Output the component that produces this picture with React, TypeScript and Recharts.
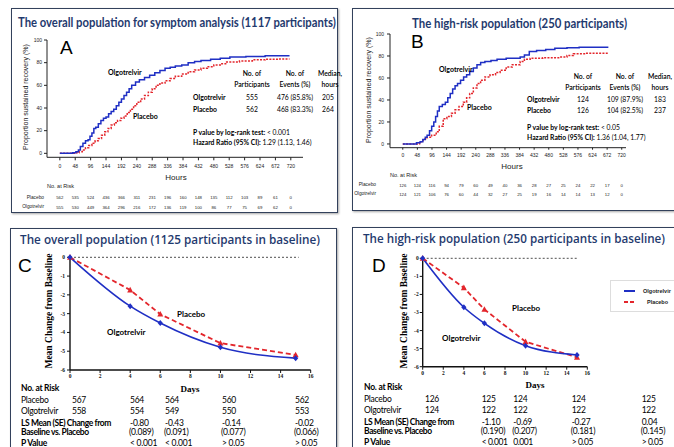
import React from 'react';
import { LineChart, Line, XAxis, YAxis, ReferenceLine, Legend } from 'recharts';

// ---------------- DATA ----------------
const hourTicks = [0, 48, 96, 144, 192, 240, 288, 336, 384, 432, 480, 528, 576, 624, 672, 720];
const pctTicks = [0, 20, 40, 60, 80, 100];
const dayTicks = [0, 2, 4, 6, 8, 10, 12, 14, 16];
const changeTicks = [0, -1, -2, -3, -4, -5, -6];

// Panel A – Kaplan-Meier (hours, % sustained recovery)
const aOlgotrelvirKM = [[0,0],[24,0],[40,0.5],[50,1.5],[58,3],[64,6],[72,9],[80,11],[88,12],[94,15],[100,18],[106,22],[112,23],[120,26],[128,29],[136,31],[144,32],[152,35],[160,37],[168,39],[176,42],[184,45],[192,48],[200,51],[208,54],[216,57],[224,60],[236,63],[248,65],[264,67],[280,69],[296,71],[312,73],[328,75],[344,76],[360,77],[380,78],[400,80],[420,81],[440,82],[470,83],[500,84],[530,85],[580,85.5],[640,86],[716,86]];
const aPlaceboKM = [[0,0],[30,0],[48,0.5],[60,1.5],[70,3],[80,5],[90,7],[100,9],[110,11],[120,13],[130,16],[140,19],[150,22],[160,25],[170,27],[180,29],[190,31],[200,33],[210,36],[220,39],[230,42],[240,45],[252,48],[264,51],[276,54],[288,57],[300,60],[312,62],[328,64],[344,66],[360,68],[380,70],[400,72],[420,73.5],[440,75],[460,76.5],[480,78],[500,79],[520,80.5],[560,81.5],[600,82.5],[640,83],[680,83.3],[716,83.3]];
const aRiskPlacebo = [562, 535, 524, 436, 366, 311, 231, 196, 160, 148, 135, 112, 103, 89, 61, 0];
const aRiskOlgotrelvir = [555, 530, 449, 364, 296, 216, 172, 136, 119, 100, 86, 77, 75, 69, 62, 0];

// Panel B – Kaplan-Meier
const bOlgotrelvirKM = [[0,0],[30,0],[45,1],[57,2],[66,4],[74,6],[80,8],[88,12],[95,16],[102,20],[108,25],[114,30],[120,34],[130,36],[140,38],[148,42],[156,46],[164,50],[172,53],[180,55],[190,58],[200,61],[210,63],[220,66],[232,69],[244,72],[256,74],[270,75],[290,76],[310,77],[340,78],[386,79],[400,81],[416,84],[440,85],[470,86],[500,87],[540,87.5],[580,87.9],[676,87.9]];
const bPlaceboKM = [[0,0],[40,0],[55,2],[67,4.5],[80,6],[95,8],[110,11],[120,16],[133,23],[145,25],[160,28],[172,31],[185,34],[199,38],[210,42],[220,46],[232,51],[244,55],[256,58],[270,61],[287,63],[305,65],[320,67],[340,70],[360,72],[386,75],[400,77],[419,78],[460,78.5],[517,79],[540,80.5],[561,82],[600,82.5],[676,82.5]];
const bRiskPlacebo = [126, 124, 116, 94, 79, 60, 49, 40, 36, 28, 27, 25, 24, 22, 17, 0];
const bRiskOlgotrelvir = [124, 121, 106, 76, 60, 44, 32, 27, 25, 19, 16, 14, 14, 13, 12, 0];

// Panels C / D – mean change from baseline by day
const visitDays = [0, 4, 6, 10, 15];
const cOlgotrelvir = [0, -2.6, -3.5, -4.79, -5.37];
const cPlacebo = [0, -1.74, -3.03, -4.57, -5.2];
const dOlgotrelvir = [0, -2.71, -3.6, -4.84, -5.35];
const dPlacebo = [0, -1.63, -2.83, -4.62, -5.48];

const riskDays = [0, 4, 6, 10, 15];
const cRiskPlacebo = ['567', '564', '564', '560', '562'];
const cRiskOlgotrelvir = ['558', '554', '549', '550', '553'];
const cLsMean = ['-0.80', '-0.43', '-0.14', '-0.02'];
const cLsSE = ['(0.089)', '(0.091)', '(0.077)', '(0.066)'];
const cPValue = ['< 0.001', '< 0.001', '> 0.05', '> 0.05'];
const dRiskPlacebo = ['126', '125', '124', '124', '125'];
const dRiskOlgotrelvir = ['124', '122', '122', '122', '122'];
const dLsMean = ['-1.10', '-0.69', '-0.27', '0.04'];
const dLsSE = ['(0.190)', '(0.207)', '(0.181)', '(0.145)'];
const dPValue = ['< 0.001', '0.001', '> 0.05', '> 0.05'];

// ---------------- STYLE ----------------
const BLUE = '#1f2fc4';
const RED = '#e3262c';
const NAVY = '#1f3a6e';
const CAL = "Lato, 'Noto Sans', sans-serif";
const ARIAL = "'Liberation Sans', Arial, sans-serif";
const SERIF = "'Liberation Serif', 'DejaVu Serif', serif";

const toKM = (arr: number[][]) => arr.map(([h, p]) => ({ h, p }));
const toDays = (vals: number[]) => visitDays.map((d, i) => ({ d, v: vals[i] }));

type TP = { x: number; y: number; s: number; b?: boolean; a?: 'start' | 'middle' | 'end'; c?: string; f?: string; children: React.ReactNode; rot?: boolean; w?: number; ls?: number };
const T = ({ x, y, s, b, a = 'start', c = '#000', f = CAL, children, rot, w, ls = 0 }: TP) => {
  const tx = a === 'middle' ? '-50%' : a === 'end' ? '-100%' : '0';
  return (
    <div
      style={{
        position: 'absolute', left: x, top: y,
        transform: rot ? 'translate(-50%,-50%) rotate(-90deg)' : `translate(${tx},-50%)`,
        fontSize: s, fontWeight: b ? (w || 700) : 400, color: c, fontFamily: f,
        whiteSpace: 'nowrap', lineHeight: 1, letterSpacing: ls,
      }}
    >
      {children}
    </div>
  );
};

let measureCtx: CanvasRenderingContext2D | null = null;
const measure = (text: string, font: string) => {
  if (!measureCtx) measureCtx = document.createElement('canvas').getContext('2d');
  if (!measureCtx) return 0;
  measureCtx.font = font;
  return measureCtx.measureText(text).width;
};

// Title squeezed horizontally to the width it occupies in the reference
const Title = ({ x, y, len, s, text, f, w }: { x: number; y: number; len: number; s: number; text: string; f: string; w: number }) => {
  const nat = measure(text, `${w} ${s}px ${f}`) || len;
  const k = Math.min(1, len / nat);
  return (
    <div
      style={{
        position: 'absolute', left: x, top: y, width: nat,
        transform: `translateY(-50%) scaleX(${k})`, transformOrigin: '0 50%',
        fontSize: s, fontWeight: w, fontFamily: f, color: NAVY, whiteSpace: 'nowrap', lineHeight: 1.1,
      }}
    >
      {text}
    </div>
  );
};

const Box = ({ l, t, r, b }: { l: number; t: number; r: number; b: number }) => (
  <div style={{ position: 'absolute', left: l, top: t, width: r - l, height: b - t, border: '1.5px solid #33415c', boxShadow: '1px 1px 2px rgba(0,0,0,0.35)', boxSizing: 'border-box' }} />
);

const kmTick = (r1: number[], r2: number[], o0: number, o1: number, o2: number) => (props: any) => {
  const { x, y, payload } = props;
  const i = hourTicks.indexOf(payload.value);
  return (
    <g>
      <text x={x} y={y + o0} textAnchor="middle" fontSize={5} fontFamily={ARIAL} fill="#222">{payload.value}</text>
      <text x={x} y={y + o1} textAnchor="middle" fontSize={4.3} fontFamily={ARIAL} fill="#222">{r1[i]}</text>
      <text x={x} y={y + o2} textAnchor="middle" fontSize={4.3} fontFamily={ARIAL} fill="#222">{r2[i]}</text>
    </g>
  );
};

const diamond = (color: string) => (p: any) => (
  <path key={`d${p.index}`} d={`M${p.cx},${p.cy - 3}L${p.cx + 2.6},${p.cy}L${p.cx},${p.cy + 3}L${p.cx - 2.6},${p.cy}Z`} fill={color} />
);
const tri = (color: string) => (p: any) => (
  <path key={`t${p.index}`} d={`M${p.cx},${p.cy - 3.2}L${p.cx + 3},${p.cy + 2.4}L${p.cx - 3},${p.cy + 2.4}Z`} fill={color} />
);

const pos = (l: number, t: number): React.CSSProperties => ({ position: 'absolute', left: l, top: t });

const kmAxisStyle = { stroke: '#222', strokeWidth: 1 };
const TS = 8.5;
const TLS = -0.25;

const App = () => {
  const aO = toKM(aOlgotrelvirKM), aP = toKM(aPlaceboKM);
  const bO = toKM(bOlgotrelvirKM), bP = toKM(bPlaceboKM);
  const cO = toDays(cOlgotrelvir), cP = toDays(cPlacebo);
  const dO = toDays(dOlgotrelvir), dP = toDays(dPlacebo);

  const serifTick = { fontSize: 5.5, fontFamily: SERIF, fontWeight: 700, fill: '#111' };

  return (
    <div style={{ position: 'absolute', left: 0, top: 0, width: 674, height: 447, overflow: 'hidden', background: '#fff' }}>
      <Box l={11} t={8} r={338} b={213} />
      <Box l={352} t={8} r={700} b={211} />
      <Box l={10} t={228} r={337} b={470} />
      <Box l={352} t={227} r={700} b={470} />

      {/* ---- Panel A chart ---- */}
      <div style={pos(0, 0)}>
        <LineChart width={340} height={215} margin={{ top: 40, left: 27, right: 37, bottom: 37.7 }}>
          <XAxis dataKey="h" type="number" domain={[-40, 758]} ticks={hourTicks} height={20} tickSize={3} tickMargin={0}
            axisLine={kmAxisStyle} tickLine={kmAxisStyle}
            tick={kmTick(aRiskPlacebo, aRiskOlgotrelvir, 7.4, 39, 48.6)} interval={0} />
          <YAxis type="number" domain={[-3.5, 100]} ticks={pctTicks} width={20} tickSize={3} tickMargin={2}
            axisLine={kmAxisStyle} tickLine={kmAxisStyle}
            tick={{ fontSize: 5, fontFamily: ARIAL, fill: '#222' }} />
          <Line data={aP} dataKey="p" type="stepAfter" stroke={RED} strokeWidth={1.5} strokeDasharray="2 1.3" dot={false} isAnimationActive={false} />
          <Line data={aO} dataKey="p" type="stepAfter" stroke={BLUE} strokeWidth={1.5} dot={false} isAnimationActive={false} />
        </LineChart>
      </div>

      {/* ---- Panel B chart ---- */}
      <div style={pos(340, 0)}>
        <LineChart width={334} height={215} margin={{ top: 34, left: 30, right: 48, bottom: 47.3 }}>
          <XAxis dataKey="h" type="number" domain={[-42, 734]} ticks={hourTicks} height={20} tickSize={2} tickMargin={0}
            axisLine={kmAxisStyle} tickLine={kmAxisStyle}
            tick={kmTick(bRiskPlacebo, bRiskOlgotrelvir, 7, 37, 46)} interval={0} />
          <YAxis type="number" domain={[-3.4, 100]} ticks={pctTicks} width={20} tickSize={3} tickMargin={3}
            axisLine={kmAxisStyle} tickLine={kmAxisStyle}
            tick={{ fontSize: 5, fontFamily: ARIAL, fill: '#222' }} />
          <Line data={bP} dataKey="p" type="stepAfter" stroke={RED} strokeWidth={1.5} strokeDasharray="2 1.3" dot={false} isAnimationActive={false} />
          <Line data={bO} dataKey="p" type="stepAfter" stroke={BLUE} strokeWidth={1.5} dot={false} isAnimationActive={false} />
        </LineChart>
      </div>

      {/* ---- Panel C chart ---- */}
      <div style={pos(0, 228)}>
        <LineChart width={340} height={170} margin={{ top: 29.3, left: 50, right: 29.3, bottom: 8 }}>
          <XAxis dataKey="d" type="number" domain={[0, 16]} ticks={dayTicks} height={20} tickSize={3} tickMargin={1}
            axisLine={{ stroke: '#111', strokeWidth: 1.4 }} tickLine={{ stroke: '#111' }} tick={serifTick} interval={0} />
          <YAxis type="number" domain={[-6, 0]} ticks={changeTicks} width={20} tickSize={3} tickMargin={2}
            axisLine={{ stroke: '#111', strokeWidth: 1.4 }} tickLine={{ stroke: '#111' }} tick={serifTick} interval={0} />
          <ReferenceLine segment={[{ x: 0, y: 0 }, { x: 15.2, y: 0 }]} stroke="#222" strokeDasharray="2 2" strokeWidth={0.8} />
          <Line data={cP} dataKey="v" type="linear" stroke={RED} strokeWidth={1.8} strokeDasharray="5 3" dot={tri(RED)} isAnimationActive={false} />
          <Line data={cO} dataKey="v" type="monotone" stroke={BLUE} strokeWidth={1.6} dot={diamond(BLUE)} isAnimationActive={false} />
        </LineChart>
      </div>

      {/* ---- Panel D chart ---- */}
      <div style={pos(340, 228)}>
        <LineChart width={334} height={170} margin={{ top: 30.3, left: 62.7, right: 20.7, bottom: 11.3 }}>
          <XAxis dataKey="d" type="number" domain={[0, 16]} ticks={dayTicks} height={20} tickSize={3} tickMargin={1}
            axisLine={{ stroke: '#111', strokeWidth: 1.4 }} tickLine={{ stroke: '#111' }} tick={serifTick} interval={0} />
          <YAxis type="number" domain={[-6, 0]} ticks={changeTicks} width={20} tickSize={3} tickMargin={1}
            axisLine={{ stroke: '#111', strokeWidth: 1.4 }} tickLine={{ stroke: '#111' }} tick={serifTick} interval={0} />
          <ReferenceLine segment={[{ x: 0, y: 0 }, { x: 15.1, y: 0 }]} stroke="#222" strokeDasharray="2 2" strokeWidth={0.8} />
          <Line data={dP} dataKey="v" name="Placebo" type="linear" stroke={RED} strokeWidth={1.8} strokeDasharray="5 3" dot={tri(RED)} isAnimationActive={false} />
          <Line data={dO} dataKey="v" name="Olgotrelvir" type="monotone" stroke={BLUE} strokeWidth={1.6} dot={diamond(BLUE)} isAnimationActive={false} />
          <Legend
            layout="horizontal" verticalAlign="middle" align="right"
            wrapperStyle={{ position: 'absolute', left: 270, top: 52, width: 66, height: 32 }}
            content={() => (
              <div style={{ width: 66, height: 32, border: '1px solid #ddd', boxSizing: 'border-box', position: 'relative' }}>
                <svg width={66} height={32} style={{ position: 'absolute', left: 0, top: 0 }}>
                  <line x1={13} y1={10} x2={24} y2={10} stroke={BLUE} strokeWidth={2} />
                  <line x1={13} y1={21} x2={24} y2={21} stroke={RED} strokeWidth={2} strokeDasharray="4 2" />
                  <text x={32} y={12} fontSize={5.5} fontFamily={ARIAL} fontWeight={700} fill="#222">Olgotrelvir</text>
                  <text x={36} y={23} fontSize={5.5} fontFamily={ARIAL} fontWeight={700} fill="#222">Placebo</text>
                </svg>
              </div>
            )}
          />
        </LineChart>
      </div>

      {/* ---- Titles ---- */}
      <Title x={18} y={22} len={318} s={14} text="The overall population for symptom analysis (1117 participants)" f={CAL} w={700} />
      <Title x={412} y={23} len={215} s={14} text="The high-risk population (250 participants)" f={CAL} w={700} />
      <Title x={20} y={239} len={300} s={13} text="The overall population (1125 participants in baseline)" f="'Open Sans', sans-serif" w={600} />
      <Title x={363} y={238} len={302} s={13} text="The high-risk population (250 participants in baseline)" f="'Open Sans', sans-serif" w={600} />

      {/* ---- Panel letters ---- */}
      <T x={60} y={47} s={19} f={ARIAL}>A</T>
      <T x={411} y={41} s={19} f={ARIAL}>B</T>
      <T x={18} y={265} s={19} f={ARIAL}>C</T>
      <T x={372} y={265} s={19} f={ARIAL}>D</T>

      {/* ---- Panel A text ---- */}
      <T x={25} y={97} s={7} f={ARIAL} c="#222" rot>Proportion sustained recovery (%)</T>
      <T x={176} y={178} s={8} f={ARIAL} a="middle" c="#222">Hours</T>
      <T x={47} y={187} s={5.5} f={ARIAL} c="#222">No. at Risk</T>
      <T x={44} y={197.7} s={4.8} f={ARIAL} a="end" c="#222">Placebo</T>
      <T x={44} y={207.3} s={4.8} f={ARIAL} a="end" c="#222">Olgotrelvir</T>
      <T x={108} y={72} s={7} b>Olgotrelvir</T>
      <T x={133} y={116} s={7} b>Placebo</T>
      <T x={252} y={73} s={6.8} b a="middle" w={600}>No. of</T>
      <T x={252} y={83.5} s={6.8} b a="middle" w={600}>Participants</T>
      <T x={295} y={73} s={6.8} b a="middle" w={600}>No. of</T>
      <T x={295} y={83.5} s={6.8} b a="middle" w={600}>Events (%)</T>
      <T x={330} y={73} s={6.8} b a="middle" w={600}>Median,</T>
      <T x={330} y={83.5} s={6.8} b a="middle" w={600}>hours</T>
      <T x={193} y={96.5} s={6.8} b>Olgotrelvir</T>
      <T x={252} y={96.5} s={6.8} a="middle">555</T>
      <T x={295} y={96.5} s={6.8} a="middle">476 (85.8%)</T>
      <T x={328} y={96.5} s={6.8} a="middle">205</T>
      <T x={193} y={108.5} s={6.8} b>Placebo</T>
      <T x={252} y={108.5} s={6.8} a="middle">562</T>
      <T x={295} y={108.5} s={6.8} a="middle">468 (83.3%)</T>
      <T x={328} y={108.5} s={6.8} a="middle">264</T>
      <T x={193} y={131.5} s={6.8} b>P value by log-rank test: <span style={{ fontWeight: 400 }}>&lt; 0.001</span></T>
      <T x={193} y={141.7} s={6.8} b>Hazard Ratio (95% CI): <span style={{ fontWeight: 400 }}>1.29 (1.13, 1.46)</span></T>

      {/* ---- Panel B text ---- */}
      <T x={368} y={90} s={7} f={ARIAL} c="#222" rot>Proportion sustained recovery (%)</T>
      <T x={512} y={167} s={8} f={ARIAL} a="middle" c="#222">Hours</T>
      <T x={390} y={176} s={5.5} f={ARIAL} c="#222">No. at Risk</T>
      <T x={376} y={185} s={4.8} f={ARIAL} a="end" c="#222">Placebo</T>
      <T x={376} y={194} s={4.8} f={ARIAL} a="end" c="#222">Olgotrelvir</T>
      <T x={439} y={69} s={7} b>Olgotrelvir</T>
      <T x={467} y={107} s={7} b>Placebo</T>
      <T x={583} y={76} s={6.8} b a="middle" w={600}>No. of</T>
      <T x={583} y={86.5} s={6.8} b a="middle" w={600}>Participants</T>
      <T x={625} y={76} s={6.8} b a="middle" w={600}>No. of</T>
      <T x={625} y={86.5} s={6.8} b a="middle" w={600}>Events (%)</T>
      <T x={660} y={76} s={6.8} b a="middle" w={600}>Median,</T>
      <T x={660} y={86.5} s={6.8} b a="middle" w={600}>hours</T>
      <T x={527} y={99} s={6.8} b>Olgotrelvir</T>
      <T x={583} y={99} s={6.8} a="middle">124</T>
      <T x={625} y={99} s={6.8} a="middle">109 (87.9%)</T>
      <T x={660} y={99} s={6.8} a="middle">183</T>
      <T x={527} y={110} s={6.8} b>Placebo</T>
      <T x={583} y={110} s={6.8} a="middle">126</T>
      <T x={625} y={110} s={6.8} a="middle">104 (82.5%)</T>
      <T x={660} y={110} s={6.8} a="middle">237</T>
      <T x={527} y={127} s={6.8} b>P value by log-rank test: <span style={{ fontWeight: 400 }}>&lt; 0.05</span></T>
      <T x={527} y={137} s={6.8} b>Hazard Ratio (95% CI): <span style={{ fontWeight: 400 }}>1.36 (1.04, 1.77)</span></T>

      {/* ---- Panel C text ---- */}
      <T x={50} y={311} s={9.5} f={SERIF} b rot>Mean Change from Baseline</T>
      <T x={190} y={389} s={9} f={SERIF} b a="middle">Days</T>
      <T x={177} y={314} s={8} b>Placebo</T>
      <T x={107} y={331.5} s={8} b>Olgotrelvir</T>
      <T x={21} y={388} s={TS} b ls={TLS}>No. at Risk</T>
      <T x={21} y={400} s={TS} ls={TLS}>Placebo</T>
      <T x={21} y={411} s={TS} ls={TLS}>Olgotrelvir</T>
      <T x={21} y={423} s={TS} b ls={-0.4}>LS Mean (SE) Change from</T>
      <T x={21} y={432} s={TS} b ls={-0.4}>Baseline vs. Placebo</T>
      <T x={21} y={443} s={TS} b ls={TLS}>P Value</T>
      {[72, 130, 165, 222, 295].map((x, i) => (
        <React.Fragment key={`c${riskDays[i]}`}>
          <T x={x} y={400} s={TS} ls={TLS}>{cRiskPlacebo[i]}</T>
          <T x={x} y={411} s={TS} ls={TLS}>{cRiskOlgotrelvir[i]}</T>
          {i > 0 && <T x={x} y={423} s={TS} ls={TLS}>{cLsMean[i - 1]}</T>}
          {i > 0 && <T x={x - 1} y={431.5} s={TS} ls={TLS}>{cLsSE[i - 1]}</T>}
          {i > 0 && <T x={x} y={443} s={TS} ls={TLS}>{cPValue[i - 1]}</T>}
        </React.Fragment>
      ))}

      {/* ---- Panel D text ---- */}
      <T x={405} y={311} s={9.5} f={SERIF} b rot>Mean Change from Baseline</T>
      <T x={535} y={385} s={9} f={SERIF} b a="middle">Days</T>
      <T x={512} y={308} s={8} b>Placebo</T>
      <T x={442} y={338} s={8} b>Olgotrelvir</T>
      <T x={364} y={387} s={TS} b ls={TLS}>No. at Risk</T>
      <T x={364} y={399} s={TS} ls={TLS}>Placebo</T>
      <T x={364} y={410} s={TS} ls={TLS}>Olgotrelvir</T>
      <T x={364} y={422} s={TS} b ls={-0.4}>LS Mean (SE) Change from</T>
      <T x={364} y={430.5} s={TS} b ls={-0.4}>Baseline vs. Placebo</T>
      <T x={364} y={442.3} s={TS} b ls={TLS}>P Value</T>
      {[425, 481.7, 513.3, 571.7, 641.7].map((x, i) => (
        <React.Fragment key={`d${riskDays[i]}`}>
          <T x={x} y={399} s={TS} ls={TLS}>{dRiskPlacebo[i]}</T>
          <T x={x} y={410} s={TS} ls={TLS}>{dRiskOlgotrelvir[i]}</T>
          {i > 0 && <T x={x} y={422} s={TS} ls={TLS}>{dLsMean[i - 1]}</T>}
          {i > 0 && <T x={x - 1} y={430.5} s={TS} ls={TLS}>{dLsSE[i - 1]}</T>}
          {i > 0 && <T x={x} y={442.3} s={TS} ls={-0.45}>{dPValue[i - 1]}</T>}
        </React.Fragment>
      ))}
    </div>
  );
};

export default App;
